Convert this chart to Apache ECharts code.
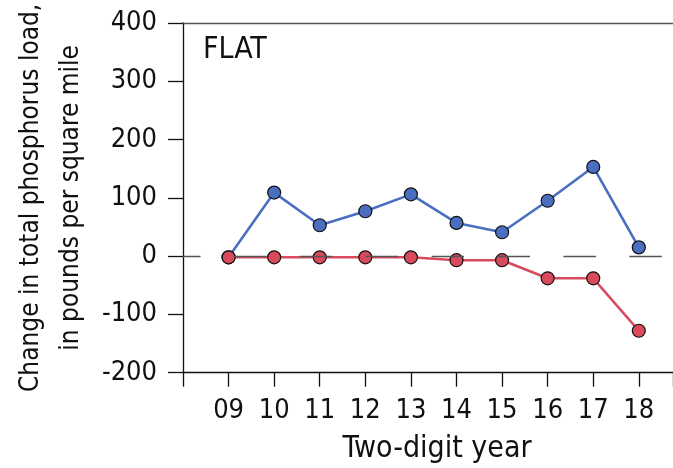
<!DOCTYPE html>
<html>
<head>
<meta charset="utf-8">
<script src="https://cdn.jsdelivr.net/npm/echarts@6/dist/echarts.min.js"></script>
<style>html,body{margin:0;padding:0;background:#fff}#c{width:673px;height:468px}</style>
</head>
<body>
<div id="c"></div>
<script>
const years = ['09', '10', '11', '12', '13', '14', '15', '16', '17', '18'];
const blueValues = [-2, 109, 53, 77, 106, 57, 41, 95, 153, 15];
const redValues = [-2, -2, -2, -2, -2, -7, -7, -38, -38, -128];
const yTicks = [-200, -100, 0, 100, 200, 300, 400];
const panelLabel = 'FLAT';

const FONT = "'DejaVu Sans Condensed', 'Liberation Sans Narrow', sans-serif";
const toPairs = vals => vals.map((v, i) => [parseInt(years[i], 10), v]);

const chart = echarts.init(document.getElementById('c'));
chart.setOption({
  animation: false,
  backgroundColor: '#fff',
  title: {
    text: panelLabel, left: 198, top: 30,
    textStyle: { fontFamily: FONT, fontSize: 30, fontWeight: 'normal', color: '#111' }
  },
  grid: { left: 183, right: 0, top: 23, bottom: 95.3, outerBoundsMode: 'none', containLabel: false },
  xAxis: [{
    type: 'value', min: 8, max: 18.75, interval: 1,
    name: 'Two-digit year', nameLocation: 'middle', nameGap: 62,
    nameTextStyle: { fontFamily: FONT, fontSize: 30, color: '#111', padding: [0, 0, 0, 18] },
    axisLine: { show: true, onZero: false, lineStyle: { color: '#111', width: 1.3 } },
    axisTick: { show: true, length: 14, lineStyle: { color: '#111', width: 1.3 } },
    splitLine: { show: false },
    axisLabel: {
      margin: 25, fontFamily: FONT, fontSize: 27, color: '#111',
      formatter: v => (Number.isInteger(v) && v >= 9 ? years[v - 9] || '' : '')
    }
  }, {
    type: 'value', position: 'top', min: 8, max: 18.75,
    axisLine: { show: true, onZero: false, lineStyle: { color: '#555', width: 1.3 } },
    axisTick: { show: false }, axisLabel: { show: false }, splitLine: { show: false }
  }],
  yAxis: {
    type: 'value', min: yTicks[0], max: yTicks[yTicks.length - 1], interval: 100,
    name: 'Change in total phosphorus load,\nin pounds per square mile',
    nameLocation: 'middle', nameGap: 91, nameRotate: 90,
    nameTextStyle: { fontFamily: FONT, fontSize: 26, color: '#111', lineHeight: 40 },
    axisLine: { show: true, onZero: false, lineStyle: { color: '#111', width: 1.3 } },
    axisTick: { show: true, length: 15, lineStyle: { color: '#111', width: 1.3 } },
    splitLine: { show: false },
    axisLabel: { margin: 26, fontFamily: FONT, fontSize: 27, color: '#111' }
  },
  series: [{
    type: 'line', data: [], z: 1, silent: true,
    markLine: {
      silent: true, symbol: 'none', label: { show: false },
      lineStyle: { color: '#555', width: 1.3, type: [32.5, 33.4], dashOffset: 15 },
      data: [{ yAxis: 0 }]
    }
  }, {
    name: 'blue', type: 'line', data: toPairs(blueValues), z: 3,
    symbol: 'circle', symbolSize: 13,
    lineStyle: { color: '#4a6fc0', width: 2.6 },
    itemStyle: { color: '#4a6fc0', borderColor: '#111', borderWidth: 1.2 }
  }, {
    name: 'red', type: 'line', data: toPairs(redValues), z: 4,
    symbol: 'circle', symbolSize: 13,
    lineStyle: { color: '#d94a5c', width: 2.6 },
    itemStyle: { color: '#d94a5c', borderColor: '#111', borderWidth: 1.2 }
  }]
});
</script>
</body>
</html>
